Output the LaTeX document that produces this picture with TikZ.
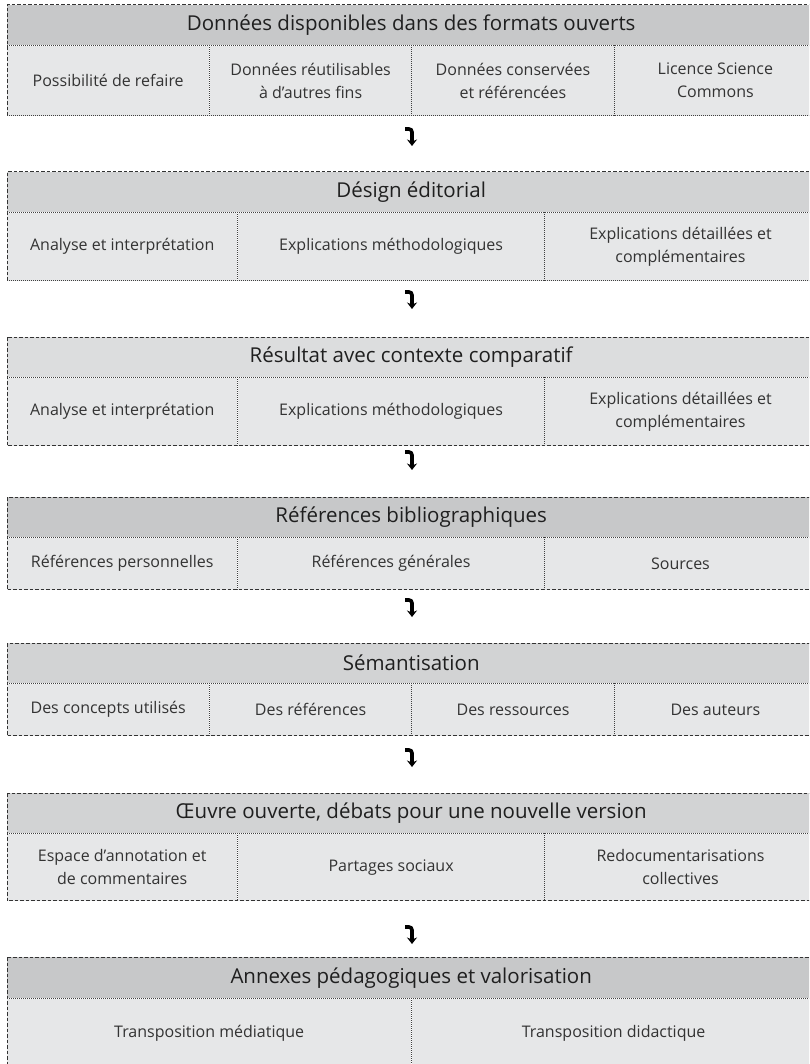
\documentclass[tikz,border=0pt]{standalone}
\usepackage{fontspec}
\setmainfont{Open Sans}
\usetikzlibrary{positioning,arrows.meta}

\definecolor{headdark}{HTML}{C7C8C9}
\definecolor{headmid}{HTML}{D2D3D4}
\definecolor{headlight}{HTML}{DCDDDE}
\definecolor{cellgray}{HTML}{E6E7E8}
\definecolor{inkgray}{HTML}{333333}

\begin{document}
\begin{tikzpicture}[
		x=1pt,y=-1pt,
		head/.style={anchor=north west,fill=#1,inner sep=0pt,minimum width=808pt,minimum height=40pt,
			text=black!88,font=\fontsize{20.5}{24}\selectfont},
		cell/.style={fill=cellgray,inner sep=0pt,align=center,text=inkgray,
			font=\fontsize{16}{23}\selectfont},
		outer/.style={draw=black!80,line width=1pt,dash pattern=on 3.5pt off 2pt},
		sep/.style={draw=black!75,line width=0.7pt,dash pattern=on 1pt off 1pt},
		flow/.style={line width=3.6pt,rounded corners=3pt,-{Stealth[length=6.5pt,width=10pt]}}
		]
		\useasboundingbox (0,0) rectangle (809,1064);
		\clip (0,0) rectangle (809,1064);
		\fill[white] (0,0) rectangle (809,1064);
		% block 1
		\node[head=headdark] (h1) at (7,5) {Données disponibles dans des formats ouverts};
		\node[cell,minimum width=202pt,minimum height=70pt,below right=0pt and 0pt of h1.south west] (c11) {Possibilité de refaire};
		\node[cell,minimum width=202pt,minimum height=70pt,right=0pt of c11] (c12) {Données réutilisables\\à d’autres fins};
		\node[cell,minimum width=202pt,minimum height=70pt,right=0pt of c12] (c13) {Données conservées\\et référencées};
		\node[cell,minimum width=202pt,minimum height=70pt,right=0pt of c13] (c14) {Licence Science\\Commons};
		\draw[outer] (c11.south west) |- (h1.north east);
		\draw[sep] (h1.south west) -- (h1.south east);
		\draw[sep] (c11.south west) -- (c14.south east);
		\draw[sep] (c11.north east) -- (c11.south east);
		\draw[sep] (c12.north east) -- (c12.south east);
		\draw[sep] (c13.north east) -- (c13.south east);
		% block 2
		\node[head=headmid] (h2) at (7,172) {Désign éditorial};
		\node[cell,minimum width=230pt,minimum height=68pt,below right=0pt and 0pt of h2.south west] (c21) {Analyse et interprétation};
		\node[cell,minimum width=307pt,minimum height=68pt,right=0pt of c21] (c22) {Explications méthodologiques};
		\node[cell,minimum width=271pt,minimum height=68pt,right=0pt of c22] (c23) {Explications détaillées et\\complémentaires};
		\draw[outer] (c21.south west) |- (h2.north east);
		\draw[sep] (h2.south west) -- (h2.south east);
		\draw[sep] (c21.south west) -- (c23.south east);
		\draw[sep] (c21.north east) -- (c21.south east);
		\draw[sep] (c22.north east) -- (c22.south east);
		% block 3
		\node[head=headlight] (h3) at (7,337) {Résultat avec contexte comparatif};
		\node[cell,minimum width=230pt,minimum height=68pt,below right=0pt and 0pt of h3.south west] (c31) {Analyse et interprétation};
		\node[cell,minimum width=307pt,minimum height=68pt,right=0pt of c31] (c32) {Explications méthodologiques};
		\node[cell,minimum width=271pt,minimum height=68pt,right=0pt of c32] (c33) {Explications détaillées et\\complémentaires};
		\draw[outer] (h3.north west) rectangle (c33.south east);
		\draw[sep] (h3.south west) -- (h3.south east);
		\draw[sep] (c31.north east) -- (c31.south east);
		\draw[sep] (c32.north east) -- (c32.south east);
		% block 4
		\node[head=headdark] (h4) at (7,497) {Références bibliographiques};
		\node[cell,minimum width=230pt,minimum height=52pt,below right=0pt and 0pt of h4.south west] (c41) {Références personnelles};
		\node[cell,minimum width=307pt,minimum height=52pt,right=0pt of c41] (c42) {Références générales};
		\node[cell,minimum width=271pt,minimum height=52pt,right=0pt of c42] (c43) {Sources};
		\draw[outer] (h4.north west) rectangle (c43.south east);
		\draw[sep] (h4.south west) -- (h4.south east);
		\draw[sep] (c41.north east) -- (c41.south east);
		\draw[sep] (c42.north east) -- (c42.south east);
		% block 5
		\node[head=headmid] (h5) at (7,643) {Sémantisation};
		\node[cell,minimum width=202pt,minimum height=52pt,below right=0pt and 0pt of h5.south west] (c51) {Des concepts utilisés};
		\node[cell,minimum width=202pt,minimum height=52pt,right=0pt of c51] (c52) {Des références};
		\node[cell,minimum width=202pt,minimum height=52pt,right=0pt of c52] (c53) {Des ressources};
		\node[cell,minimum width=202pt,minimum height=52pt,right=0pt of c53] (c54) {Des auteurs};
		\draw[outer] (h5.north west) rectangle (c54.south east);
		\draw[sep] (h5.south west) -- (h5.south east);
		\draw[sep] (c51.north east) -- (c51.south east);
		\draw[sep] (c52.north east) -- (c52.south east);
		\draw[sep] (c53.north east) -- (c53.south east);
		% block 6
		\node[head=headmid] (h6) at (7,793) {Œuvre ouverte, débats pour une nouvelle version};
		\node[cell,minimum width=230pt,minimum height=67pt,below right=0pt and 0pt of h6.south west] (c61) {Espace d’annotation et\\de commentaires};
		\node[cell,minimum width=307pt,minimum height=67pt,right=0pt of c61] (c62) {Partages sociaux};
		\node[cell,minimum width=271pt,minimum height=67pt,right=0pt of c62] (c63) {Redocumentarisations\\collectives};
		\draw[outer] (h6.north west) rectangle (c63.south east);
		\draw[sep] (h6.south west) -- (h6.south east);
		\draw[sep] (c61.north east) -- (c61.south east);
		\draw[sep] (c62.north east) -- (c62.south east);
		% block 7
		\node[head=headdark,minimum height=41pt] (h7) at (7,957) {Annexes pédagogiques et valorisation};
		\node[cell,minimum width=404pt,minimum height=70pt,below right=0pt and 0pt of h7.south west] (c71) {Transposition médiatique};
		\node[cell,minimum width=404pt,minimum height=70pt,right=0pt of c71] (c72) {Transposition didactique};
		\draw[outer] (h7.north west) rectangle (c72.south east);
		\draw[sep] (h7.south west) -- (h7.south east);
		\draw[sep] (c71.north east) -- (c71.south east);
		% arrows between the blocks
		\coordinate (a1s) at (405,129);
		\coordinate (a1e) at (412,146);
		\coordinate (a2s) at (405,292);
		\coordinate (a2e) at (412,309);
		\coordinate (a3s) at (405,452);
		\coordinate (a3e) at (412,470);
		\coordinate (a4s) at (405,600);
		\coordinate (a4e) at (412,617);
		\coordinate (a5s) at (405,750);
		\coordinate (a5e) at (412,767);
		\coordinate (a6s) at (405,927);
		\coordinate (a6e) at (412,944);
		\draw[flow] (a1s) -| (a1e);
		\draw[flow] (a2s) -| (a2e);
		\draw[flow] (a3s) -| (a3e);
		\draw[flow] (a4s) -| (a4e);
		\draw[flow] (a5s) -| (a5e);
		\draw[flow] (a6s) -| (a6e);
	\end{tikzpicture}
\end{document}
